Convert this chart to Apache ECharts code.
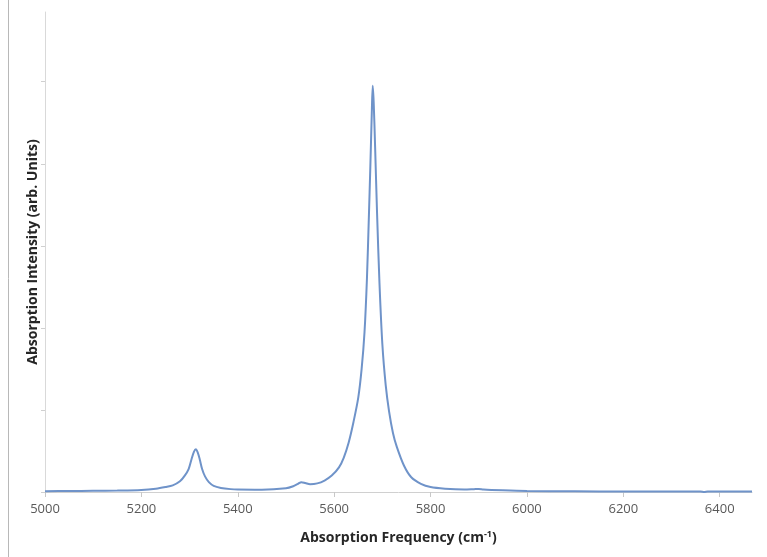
<!DOCTYPE html>
<html>
<head>
<meta charset="utf-8">
<script src="https://cdn.jsdelivr.net/npm/echarts@6/dist/echarts.min.js"></script>
<style>
html,body{margin:0;padding:0;background:#fff;}
#chart{width:767px;height:557px;}
</style>
</head>
<body>
<div id="chart"></div>
<script>
var frequencies = [5000,5050,5100,5150,5200,5230,5250,5265,5280,5290,5298,5304,5309,5313,5317,5321,5326,5332,5340,5350,5365,5385,5400,5450,5500,5515,5525,5532,5540,5550,5565,5580,5595,5610,5620,5630,5640,5650,5657,5663,5668,5672,5675,5678,5680,5682,5685,5689,5694,5700,5707,5714,5722,5730,5745,5760,5780,5800,5830,5870,5890,5900,5910,5950,6000,6100,6200,6300,6360,6368,6375,6467];
var intensities = [0.01,0.012,0.015,0.018,0.025,0.04,0.06,0.08,0.13,0.2,0.28,0.4,0.49,0.52,0.48,0.4,0.28,0.19,0.12,0.075,0.05,0.035,0.03,0.028,0.045,0.07,0.1,0.12,0.11,0.095,0.105,0.14,0.2,0.3,0.42,0.6,0.85,1.15,1.5,1.95,2.6,3.35,3.95,4.6,4.95,4.75,4.2,3.4,2.55,1.8,1.3,0.98,0.72,0.55,0.32,0.18,0.1,0.06,0.04,0.03,0.035,0.038,0.03,0.02,0.012,0.008,0.006,0.005,0.005,0.0,0.005,0.005];
var xTicks = [5000,5200,5400,5600,5800,6000,6200,6400];
var yTicks = [0,1,2,3,4,5];

var seriesData = frequencies.map(function(f,i){return [f, intensities[i]];});

var chart = echarts.init(document.getElementById('chart'));
chart.setOption({
  animation:false,
  backgroundColor:'#fff',
  grid:{left:45,right:15,top:12,bottom:65,containLabel:false},
  xAxis:{
    type:'value', min:5000, max:6467,
    name:'{t|Absorption Frequency (cm}{s|-1}{t|)}',
    nameLocation:'middle', nameGap:38,
    nameTextStyle:{rich:{t:{fontFamily:'Open Sans',fontWeight:'bold',fontSize:14,color:'#262626'},s:{fontFamily:'Open Sans',fontWeight:'bold',fontSize:9,color:'#262626',verticalAlign:'top',padding:[0,0,8,0]}}},
    axisLine:{lineStyle:{color:'#d0d0d0',width:1}},
    axisTick:{show:true,length:5,customValues:xTicks,lineStyle:{color:'#c8c8c8'}},
    axisLabel:{customValues:xTicks,formatter:function(v){return String(v);},fontFamily:'Open Sans',fontSize:13,color:'#595959',margin:11},
    splitLine:{show:false}
  },
  yAxis:{
    type:'value', min:0, max:5.85,
    name:'Absorption Intensity (arb. Units)',
    nameLocation:'middle', nameGap:5,
    nameTextStyle:{fontFamily:'Open Sans',fontWeight:'bold',fontSize:14,color:'#262626'},
    axisLine:{show:true,lineStyle:{color:'#d9d9d9',width:1}},
    axisTick:{show:true,length:4,customValues:yTicks,lineStyle:{color:'#d0d0d0'}},
    axisLabel:{show:false},
    splitLine:{show:false}
  },
  graphic:[{type:'line',shape:{x1:8.5,y1:0,x2:8.5,y2:557},style:{stroke:'#b8b8b8',lineWidth:1}}],
  series:[{
    type:'line', data:seriesData, showSymbol:false, smooth:0.3,
    lineStyle:{color:'#6f93c9',width:2},
    z:5
  }]
});
</script>
</body>
</html>
